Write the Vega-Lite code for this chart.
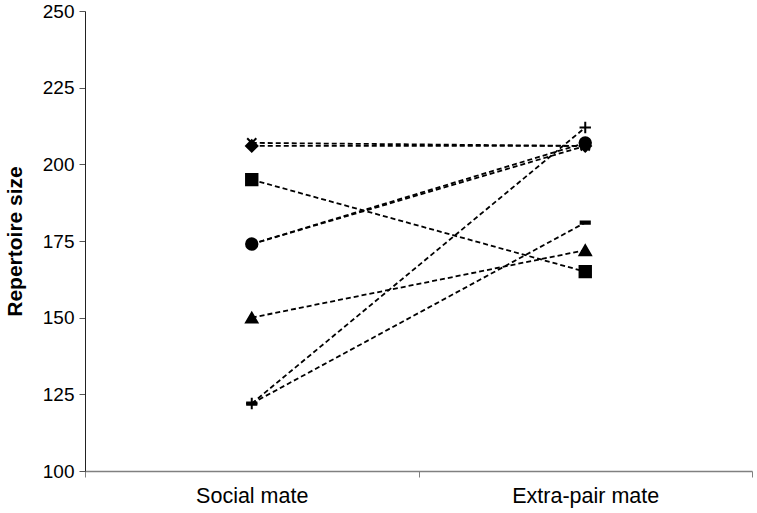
{
  "$schema": "https://vega.github.io/schema/vega-lite/v6.json",
  "autosize": "none",
  "padding": {"left": 85, "top": 11, "right": 5, "bottom": 42},
  "width": 667,
  "height": 460,
  "background": "white",
  "config": {"view": {"stroke": null}, "font": "Liberation Sans"},
  "data": {
    "values": [
      {"series": "A", "mate": "Social mate", "size": 206},
      {"series": "A", "mate": "Extra-pair mate", "size": 206},
      {"series": "B", "mate": "Social mate", "size": 195},
      {"series": "B", "mate": "Extra-pair mate", "size": 165},
      {"series": "C", "mate": "Social mate", "size": 150},
      {"series": "C", "mate": "Extra-pair mate", "size": 172},
      {"series": "D", "mate": "Social mate", "size": 207},
      {"series": "D", "mate": "Extra-pair mate", "size": 206},
      {"series": "E", "mate": "Social mate", "size": 174},
      {"series": "E", "mate": "Extra-pair mate", "size": 206},
      {"series": "F", "mate": "Social mate", "size": 174},
      {"series": "F", "mate": "Extra-pair mate", "size": 207},
      {"series": "G", "mate": "Social mate", "size": 122},
      {"series": "G", "mate": "Extra-pair mate", "size": 212},
      {"series": "H", "mate": "Social mate", "size": 122},
      {"series": "H", "mate": "Extra-pair mate", "size": 181}
    ]
  },
  "encoding": {
    "x": {
      "field": "mate", "type": "nominal",
      "sort": ["Social mate", "Extra-pair mate"],
      "scale": {"type": "band", "paddingInner": 0, "paddingOuter": 0},
      "axis": {
        "title": null, "labelAngle": 0, "tickBand": "extent",
        "domainColor": "#808080", "tickColor": "#808080", "domainWidth": 1.5,
        "tickSize": 6, "labelFontSize": 21.5, "labelColor": "black", "labelPadding": 8
      }
    },
    "y": {
      "field": "size", "type": "quantitative",
      "scale": {"domain": [100, 250], "nice": false, "zero": false},
      "axis": {
        "title": "Repertoire size", "values": [100, 125, 150, 175, 200, 225, 250],
        "grid": false, "domainColor": "#222222", "tickColor": "#555555", "tickSize": 6,
        "labelFontSize": 19, "labelColor": "black", "labelPadding": 5,
        "titleFontSize": 21, "titleFontWeight": "bold", "titleColor": "black", "titlePadding": 17
      }
    }
  },
  "layer": [
    {
      "mark": {"type": "line", "color": "black", "strokeWidth": 1.8, "strokeDash": [5, 3]},
      "encoding": {"detail": {"field": "series"}}
    },
    {
      "mark": {"type": "point", "filled": true, "fill": "black", "stroke": "black", "strokeWidth": 2, "opacity": 1, "size": 130},
      "encoding": {
        "shape": {
          "field": "series", "type": "nominal", "legend": null,
          "scale": {
            "domain": ["A", "B", "C", "D", "E", "F", "G", "H"],
            "range": [
              "diamond", "square", "triangle-up",
              "M-0.8,-0.8L0.8,0.8M-0.8,0.8L0.8,-0.8",
              "M0,-1V1M-0.87,-0.5L0.87,0.5M-0.87,0.5L0.87,-0.5",
              "circle",
              "M-1,0H1M0,-1V1",
              "M-0.8,-0.2H0.8V0.2H-0.8Z"
            ]
          }
        }
      }
    }
  ]
}
